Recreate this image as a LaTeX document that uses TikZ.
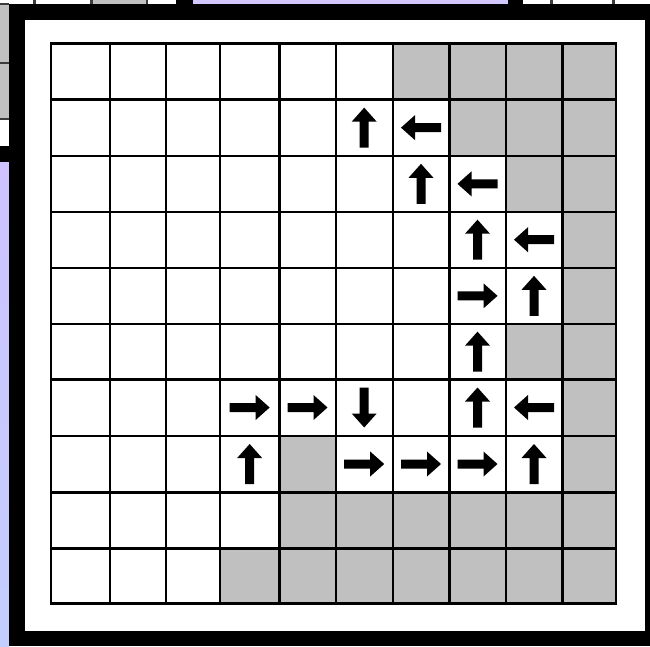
\documentclass[tikz,border=0pt]{standalone}
\usetikzlibrary{calc}
\definecolor{cellgray}{RGB}{192,192,192}
\definecolor{lavtop}{RGB}{210,200,255}
\definecolor{lavA}{RGB}{206,194,255}
\definecolor{lavB}{RGB}{194,206,255}
\definecolor{edgegray}{RGB}{60,60,60}
\tikzset{
  gridline/.style={line width=2.4pt, black, line cap=rect},
  bgline/.style={line width=2.4pt, edgegray},
  arrowR/.pic={\fill[black] (-20,-4.5) -- (6,-4.5) -- (6,-12.5) -- (20,0) -- (6,12.5) -- (6,4.5) -- (-20,4.5) -- cycle;},
  arrowL/.pic={\fill[black] (20,-4.5) -- (-6,-4.5) -- (-6,-12.5) -- (-20,0) -- (-6,12.5) -- (-6,4.5) -- (20,4.5) -- cycle;},
  arrowU/.pic={\fill[black] (-4.5,20) -- (-4.5,-6) -- (-12.5,-6) -- (0,-20) -- (12.5,-6) -- (4.5,-6) -- (4.5,20) -- cycle;},
  arrowD/.pic={\fill[black] (-4.5,-20) -- (-4.5,6) -- (-12.5,6) -- (0,20) -- (12.5,6) -- (4.5,6) -- (4.5,-20) -- cycle;},
}
\newcommand{\gcell}[2]{\pgfmathtruncatemacro{\cc}{#1+1}\pgfmathtruncatemacro{\rr}{#2+1}\fill[cellgray] (g-#1-#2) rectangle (g-\cc-\rr);}
\newcommand{\gridarrow}[3]{\pgfmathtruncatemacro{\cc}{#1+1}\pgfmathtruncatemacro{\rr}{#2+1}\pic at ($(g-#1-#2)!0.5!(g-\cc-\rr)$) {arrow#3};}
\begin{document}
\begin{tikzpicture}[x=1pt,y=-1pt]
\useasboundingbox (0,0) rectangle (650,646);
\fill[white] (0,0) rectangle (650,646);
% background fragments (top strip)
\fill[cellgray] (92,0) rectangle (147,4);
\fill[black] (176,0) rectangle (193,4);
\fill[lavtop] (193,0) rectangle (508,4);
\fill[black] (508,0) rectangle (523,4);
\foreach \x in {34.5,91.5,147,551.5,613.5} \draw[bgline] (\x,0) -- (\x,4);
% background fragments (left strip)
\fill[cellgray] (0,4) rectangle (9,119);
\fill[black] (0,146) rectangle (9,162);
\shade[top color=lavA, bottom color=lavB] (0,162) rectangle (9,646);
\foreach \y in {4,63,119} \draw[bgline] (0,\y) -- (9,\y);
% frame
\fill[black] (9,4) rectangle (650,646);
\fill[white] (25,20) rectangle (645,631);
% grid coordinates
\foreach [count=\i from 0] \x in {50.7,110,166,220,279.3,335.7,392.7,449.3,505.7,562.3,615.7}
  \foreach [count=\j from 0] \y in {43.5,99.3,156,211.7,267.7,324,379.3,435.7,492.3,548.3,603.3}
    \coordinate (g-\i-\j) at (\x,\y);
% gray cells
\foreach \c in {6,7,8,9} {\gcell{\c}{0}}
\foreach \c in {7,8,9} {\gcell{\c}{1}}
\foreach \c in {8,9} {\gcell{\c}{2}}
\gcell{9}{3}
\gcell{9}{4}
\foreach \c in {8,9} {\gcell{\c}{5}}
\gcell{9}{6}
\gcell{4}{7}
\gcell{9}{7}
\foreach \c in {4,...,9} {\gcell{\c}{8}}
\foreach \c in {3,...,9} {\gcell{\c}{9}}
% grid lines
\foreach \i in {0,...,10} \draw[gridline] (g-\i-0) -- (g-\i-10);
\foreach \j in {0,...,10} \draw[gridline] (g-0-\j) -- (g-10-\j);
% arrows
\gridarrow{5}{1}{U} \gridarrow{6}{1}{L}
\gridarrow{6}{2}{U} \gridarrow{7}{2}{L}
\gridarrow{7}{3}{U} \gridarrow{8}{3}{L}
\gridarrow{7}{4}{R} \gridarrow{8}{4}{U}
\gridarrow{7}{5}{U}
\gridarrow{3}{6}{R} \gridarrow{4}{6}{R} \gridarrow{5}{6}{D} \gridarrow{7}{6}{U} \gridarrow{8}{6}{L}
\gridarrow{3}{7}{U} \gridarrow{5}{7}{R} \gridarrow{6}{7}{R} \gridarrow{7}{7}{R} \gridarrow{8}{7}{U}
\end{tikzpicture}
\end{document}
